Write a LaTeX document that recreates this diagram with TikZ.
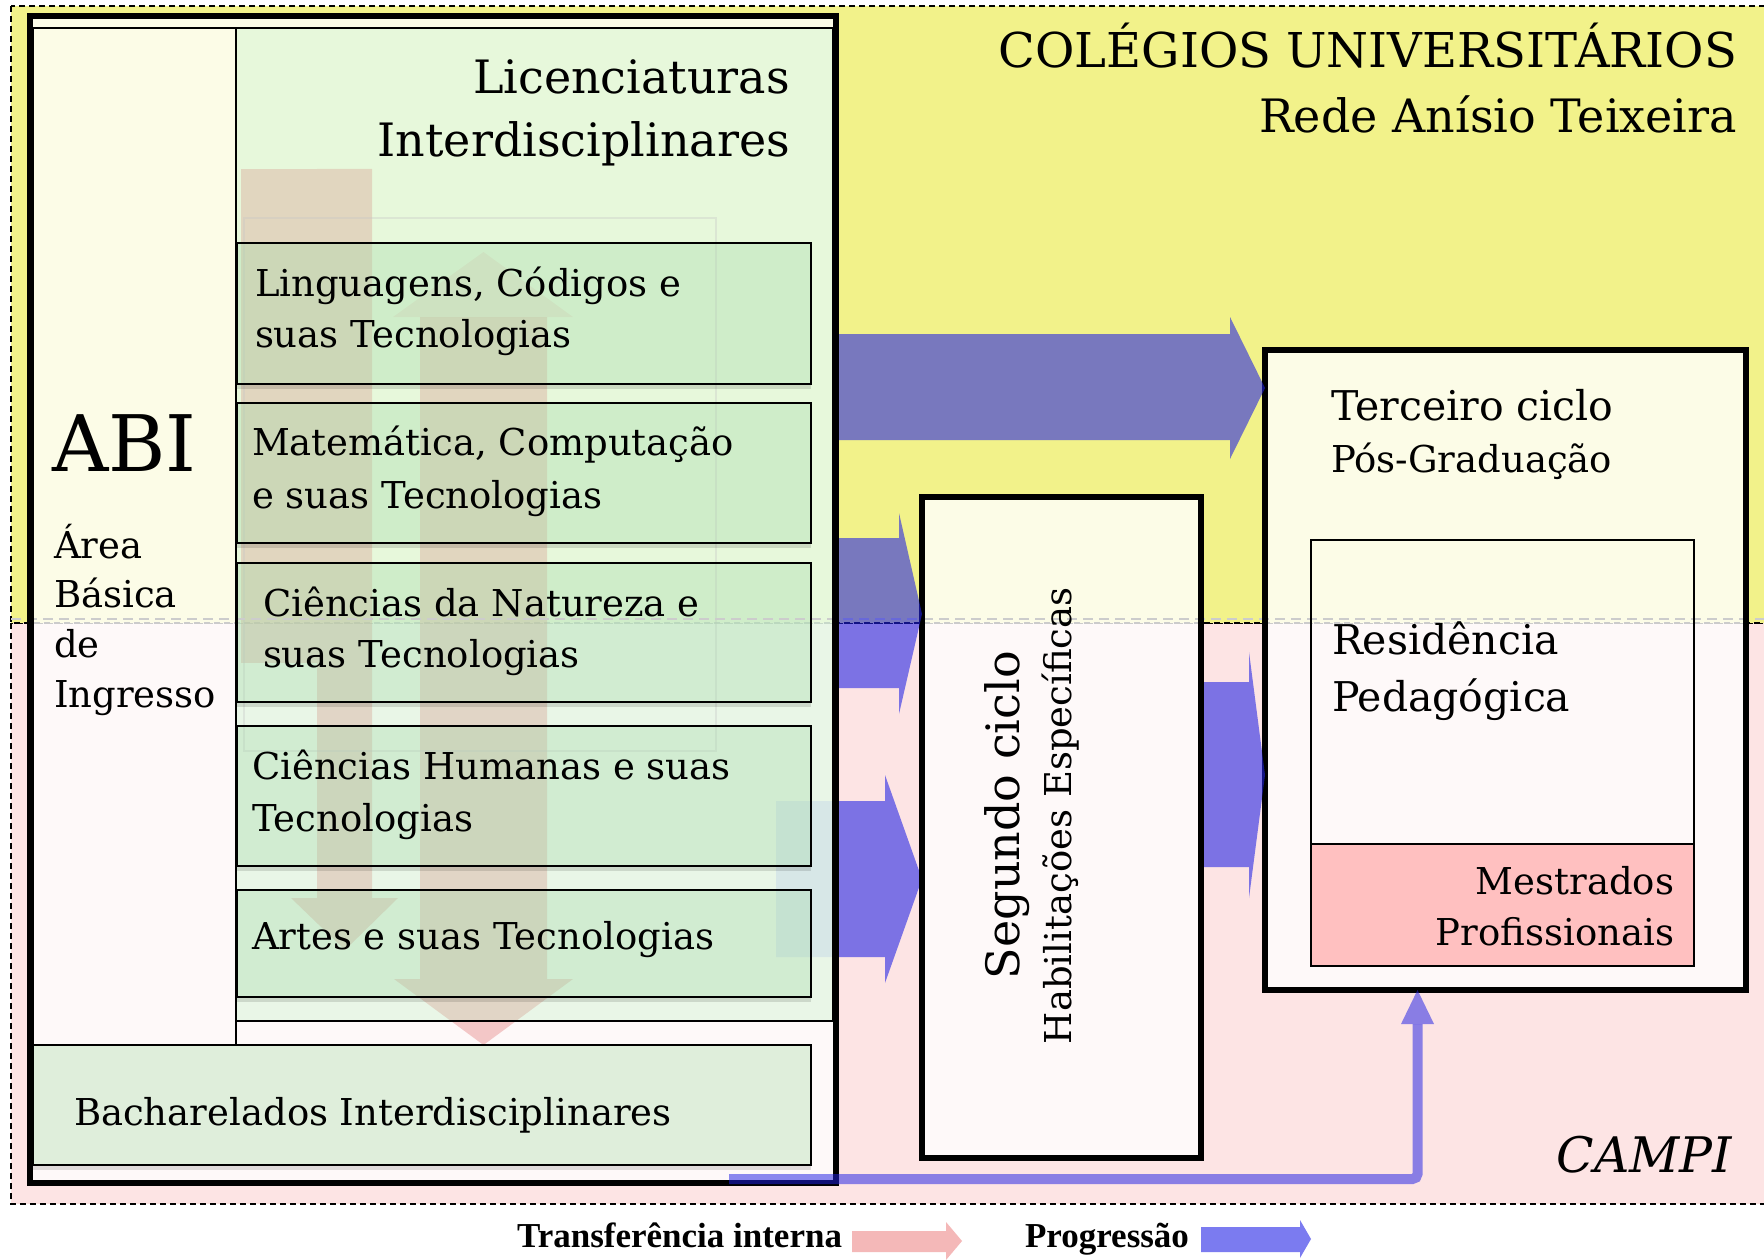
\documentclass[tikz,border=0pt]{standalone}
\usepackage{fontspec}
\setmainfont{DejaVu Serif}
\newfontfamily\legfont{Liberation Serif}
\usetikzlibrary{fit,arrows.meta}
\definecolor{ybg}{RGB}{242,242,138}
\definecolor{pbg}{RGB}{253,228,228}
\definecolor{licg}{RGB}{191,242,196}
\definecolor{boxg}{RGB}{165,218,170}
\definecolor{bachg}{RGB}{223,238,219}
\definecolor{trpink}{RGB}{229,131,131}
\definecolor{progb}{RGB}{32,32,228}
\definecolor{mesp}{RGB}{255,192,192}
\definecolor{legpink}{RGB}{244,184,184}
\definecolor{legblue}{RGB}{123,123,240}
\begin{document}
\begin{tikzpicture}[x=1pt,y=-1pt,
  region/.style={inner sep=0pt,outer sep=0pt},
  lbl/.style={inner sep=0pt,outer sep=0pt,text=black},
  thinb/.style={draw=black,line width=1.6pt},
  thickb/.style={draw=black,line width=6.5pt},
  whitefill/.style={fill=white,fill opacity=0.8},
  trarrow/.style={fill=trpink,fill opacity=0.42},
  progarrow/.style={fill=progb,fill opacity=0.58},
  progline/.style={draw=progb,draw opacity=0.52,line width=10pt,rounded corners=5pt},
  proghead/.style={fill=progb,fill opacity=0.52},
  shadowb/.style={fill=black,fill opacity=0.12},
  fs/.style={font=\fontsize{#1}{#1}\selectfont},
  regborder/.style={draw=black,line width=1.4pt,dash pattern=on 6pt off 4pt}
]
\useasboundingbox (0,0) rectangle (1764,1260);
\fill[white] (0,0) rectangle (1764,1260);

% ---------- geometry ----------
\node[region,fit={(11,623) (1776,1204)}] (campi) {};
\node[region,fit={(11,6) (1776,623)}] (colegios) {};
\node[region,fit={(30,16) (836,1183)}] (big) {};
\node[region,fit={(33,28) (236,1045)}] (abicol) {};
\node[region,fit={(236,28) (833,1021)}] (lic) {};
\node[region,fit={(237,243) (811,384)}] (b1) {};
\node[region,fit={(237,403) (811,543)}] (b2) {};
\node[region,fit={(237,563) (811,702)}] (b3) {};
\node[region,fit={(237,726) (811,866)}] (b4) {};
\node[region,fit={(237,890) (811,997)}] (b5) {};
\node[region,fit={(33,1045) (811,1165)}] (bach) {};
\node[region,fit={(922,497) (1201,1158)}] (seg) {};
\node[region,fit={(1265,350) (1746,990)}] (ter) {};
\node[region,fit={(1311,540) (1694,966)}] (res) {};
\node[region,fit={(1311,844) (1694,966)}] (mes) {};
\coordinate (bigR) at ([xshift=3pt]big.east);
\coordinate (segR) at ([xshift=3.2pt]seg.east);
\coordinate (lstart) at (729,1179);
\coordinate (lhead) at (1417.5,1024);

% ---------- backgrounds ----------
\fill[pbg] (campi.north west) rectangle (campi.south east);
\draw[regborder] (campi.north west) rectangle (campi.south east);
\fill[ybg] (colegios.north west) rectangle (colegios.south east);
\draw[regborder] (colegios.north west) rectangle (colegios.south east);

\fill[whitefill] (seg.north west) rectangle (seg.south east);
\fill[whitefill] (ter.north west) rectangle (ter.south east);
\fill[mesp] (mes.north west) rectangle (mes.south east);

% progression arrow partly under the left block
\fill[progarrow] (776,801) -- (885,801) -- (885,775) -- (seg.west |- 0,879) -- (885,983) -- (885,957) -- (776,957) -- cycle;

\fill[whitefill] (big.north west) rectangle (big.south east);

% internal transfer arrows
\fill[trarrow] (241,169) rectangle (317,663);
\fill[trarrow] (317,169) -- (372,169) -- (372,898) -- (398,898) -- (345,950) -- (291,898) -- (317,898) -- cycle;
\fill[trarrow] (420,317) -- (547,317) -- (547,979) -- (573,979) -- (483.5,0 |- bach.north) -- (394,979) -- (420,979) -- cycle;
\fill[trarrow,fill opacity=0.2] (393,317) -- (483.5,252) -- (573,317) -- cycle;

\fill[licg,fill opacity=0.33] (lic.north west) rectangle (lic.south east);
\draw[gray!45,line width=1.5pt,opacity=0.35] (244,218) rectangle (716,751);

\foreach \b in {b1,b2,b3,b4,b5}{
  \fill[shadowb] (\b.south west) rectangle ([yshift=-5pt]\b.south east);
  \fill[boxg,fill opacity=0.35] (\b.north west) rectangle (\b.south east);
}
\fill[shadowb] (bach.south west) rectangle ([yshift=-5pt]bach.south east);
\fill[bachg] (bach.north west) rectangle (bach.south east);

% boundary line between the two regions
\draw[gray!40,line width=2pt,dash pattern=on 10pt off 6pt] (colegios.south west |- 0,619) -- (1764,619);

% ---------- borders ----------
\draw[line width=5.5pt] (big.north west) rectangle (big.south east);
\draw[thinb] (abicol.north west) rectangle (abicol.south east);
\draw[thinb] (lic.north west) rectangle (lic.south east);
\foreach \b in {b1,b2,b3,b4,b5,bach}{
  \draw[thinb] (\b.north west) rectangle (\b.south east);
}
\draw[thickb] (seg.north west) rectangle (seg.south east);
\draw[thickb] (ter.north west) rectangle (ter.south east);
\draw[thinb] (res.north west) rectangle (res.south east);
\draw[thinb] (mes.north west) -- (mes.north east);

% ---------- progression arrows ----------
\fill[progarrow] (bigR |- 0,334) -- (1230,334) -- (1230,317) -- (ter.west |- 0,388) -- (1230,459) -- (1230,440) -- (bigR |- 0,440) -- cycle;
\fill[progarrow] (bigR |- 0,538) -- (899,538) -- (899,513) -- (seg.west |- 0,614) -- (899,714) -- (899,688) -- (bigR |- 0,688) -- cycle;
\fill[progarrow] (segR |- 0,682) -- (1249,682) -- (1249,652) -- (ter.west |- 0,775) -- (1249,898) -- (1249,867) -- (segR |- 0,867) -- cycle;
\draw[progline] (lstart) -- (lhead |- lstart) -- (lhead);
\fill[proghead] ([xshift=-16.5pt]lhead) -- (lhead |- ter.south) -- ([xshift=16.5pt]lhead) -- cycle;

% ---------- texts ----------
\node[lbl,fs=48,anchor=base east] (col1) at (1737,68) {COLÉGIOS UNIVERSITÁRIOS};
\node[lbl,fs=46,anchor=base east] (col2) at (1737,133) {Rede Anísio Teixeira};
\node[lbl,fs=46,anchor=base east] (lic1) at (790,94) {Licenciaturas};
\node[lbl,fs=46,anchor=base east] (lic2) at (790,157) {Interdisciplinares};
\node[lbl,fs=78,anchor=base west] (abi) at (52,471) {ABI};
\node[lbl,fs=37,anchor=base west] (abi1) at (54,558) {Área};
\node[lbl,fs=37,anchor=base west] (abi2) at (54,607) {Básica};
\node[lbl,fs=37,anchor=base west] (abi3) at (54,657) {de};
\node[lbl,fs=37,anchor=base west] (abi4) at (54,707) {Ingresso};
\node[lbl,fs=37,anchor=base west] (b1a) at (255,296) {Linguagens, Códigos e};
\node[lbl,fs=37,anchor=base west] (b1b) at (255,347) {suas Tecnologias};
\node[lbl,fs=37,anchor=base west] (b2a) at (252,455) {Matemática, Computação};
\node[lbl,fs=37,anchor=base west] (b2b) at (252,508) {e suas Tecnologias};
\node[lbl,fs=37,anchor=base west] (b3a) at (263,616) {Ciências da Natureza e};
\node[lbl,fs=37,anchor=base west] (b3b) at (263,667) {suas Tecnologias};
\node[lbl,fs=37,anchor=base west] (b4a) at (252,779) {Ciências Humanas e suas};
\node[lbl,fs=37,anchor=base west] (b4b) at (252,831) {Tecnologias};
\node[lbl,fs=37,anchor=base west] (b5a) at (252,949) {Artes e suas Tecnologias};
\node[lbl,fs=37,anchor=base west] (bacht) at (74,1125) {Bacharelados Interdisciplinares};
\node[lbl,fs=46,anchor=base west,rotate=90] (seg1) at (1019,979) {Segundo ciclo};
\node[lbl,fs=37,anchor=base west,rotate=90] (seg2) at (1071,1044) {Habilitações Específicas};
\node[lbl,fs=41,anchor=base west] (ter1) at (1331,420) {Terceiro ciclo};
\node[lbl,fs=37,anchor=base west] (ter2) at (1331,472) {Pós-Graduação};
\node[lbl,fs=41,anchor=base west] (res1) at (1332,654) {Residência};
\node[lbl,fs=41,anchor=base west] (res2) at (1332,711) {Pedagógica};
\node[lbl,fs=37,anchor=base east] (mes1) at (1674,894) {Mestrados};
\node[lbl,fs=37,anchor=base east] (mes2) at (1674,945) {Profissionais};
\node[lbl,font={\fontsize{49}{49}\selectfont\itshape},anchor=base east] (campit) at (1732,1172) {CAMPI};

% ---------- legend ----------
\node[lbl,font={\legfont\bfseries\fontsize{35}{35}\selectfont},anchor=base east] (legtr) at (842,1247) {Transferência interna};
\node[lbl,font={\legfont\bfseries\fontsize{35}{35}\selectfont},anchor=base west] (legpr) at (1025,1247) {Progressão};
\fill[legpink] (852,1231) -- (946,1231) -- (946,1222) -- (962,1241) -- (946,1260) -- (946,1252) -- (852,1252) -- cycle;
\fill[legblue] (1201,1227) -- (1300,1227) -- (1300,1220) -- (1311,1239) -- (1300,1258) -- (1300,1252) -- (1201,1252) -- cycle;
\end{tikzpicture}
\end{document}
